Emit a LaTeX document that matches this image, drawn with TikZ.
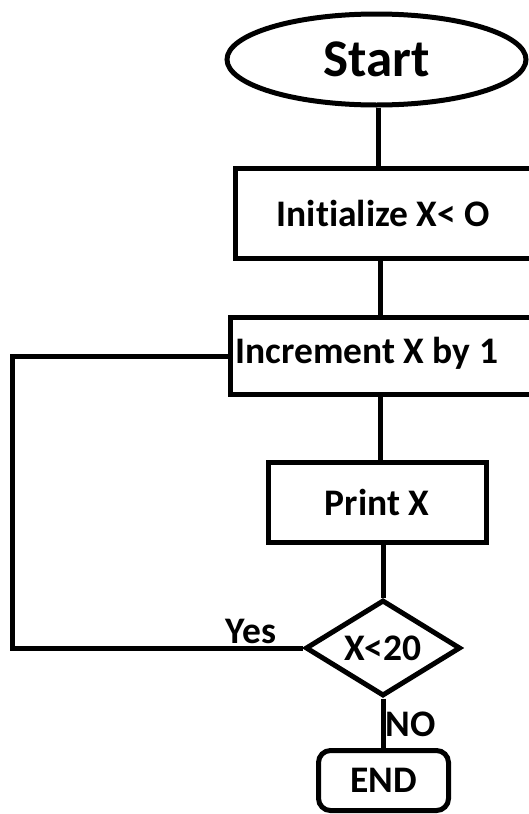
\documentclass[tikz,border=0pt]{standalone}
\usepackage{fontspec}
\setmainfont[Ligatures={NoCommon}]{Carlito}
\usetikzlibrary{shapes.geometric}
\begin{document}
\begin{tikzpicture}[x=1pt,y=-1pt,
  line width=5pt,
  txt/.style={font=\fontsize{37.5}{42}\selectfont\bfseries},
  box/.style={draw, rectangle, inner sep=0pt, txt},
  lbl/.style={inner sep=0pt, txt},
  conn/.style={draw, line width=5pt}]
\useasboundingbox (0,0) rectangle (529,814);
\clip (0,0) rectangle (529,814);
\node[draw, ellipse, minimum width=299pt, minimum height=91pt, inner sep=0pt,
      font=\fontsize{53}{58}\selectfont\bfseries] (start) at (376.5,59.5) {Start};
\node[box, minimum width=295.5pt, minimum height=90pt] (init) at (383.25,213.5) {Initialize X< O};
\node[box, minimum width=303.5pt, minimum height=76.5pt] (incr) at (382.25,356) {};
\node[lbl, anchor=base west] (incrtxt) at ([xshift=5pt,yshift=-7pt]incr.west) {Increment X by 1};
\node[box, minimum width=218pt, minimum height=80pt] (print) at (377,502) {Print X};
\node[draw, diamond, shape aspect=1.6, minimum width=155pt, minimum height=96pt, inner sep=0pt, txt] (dec) at (383,648) {X<20};
\node[box, rounded corners=12pt, minimum width=130pt, minimum height=60pt] (end) at (383.5,780.5) {END};
\coordinate (loop) at (12.5,356);
\node[lbl] (yes) at (251,631) {Yes};
\node[lbl] (no) at (411,724) {NO};
\draw[conn] ([xshift=1.5pt]start.south) -- ([xshift=1.5pt]start.south |- init.north);
\draw[conn] ([xshift=-3pt]init.south) -- ([xshift=-3pt]init.south |- incr.north);
\draw[conn] ([xshift=-2pt]incr.south) -- ([xshift=-2pt]incr.south |- print.north);
\draw[conn] (print.south -| dec.north) -- (dec.north);
\draw[conn] (dec.south) -- (dec.south |- end.north);
\draw[conn] (incr.west) -- (loop) |- (dec.west);
\end{tikzpicture}
\end{document}
